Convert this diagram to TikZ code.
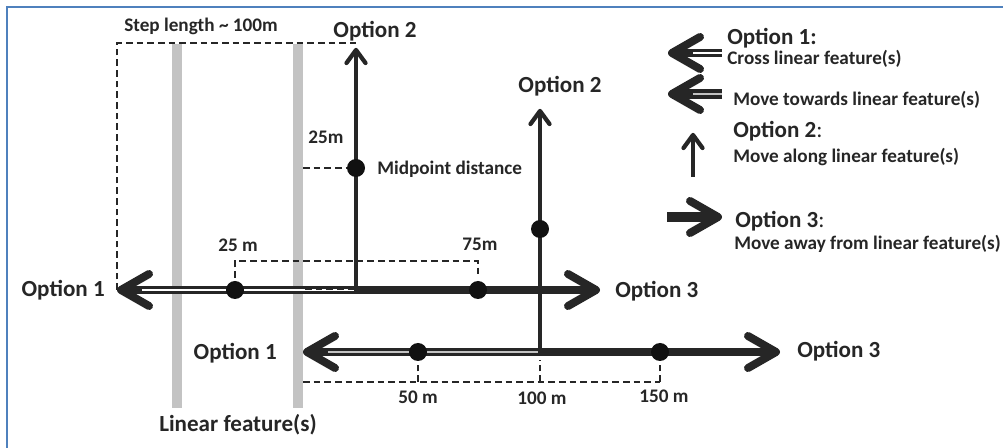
\documentclass[tikz,border=0pt]{standalone}
\usepackage{fontspec}
\setmainfont{Carlito}
\definecolor{ink}{HTML}{262626}
\definecolor{framec}{HTML}{4F81BD}
\definecolor{featurec}{HTML}{C3C3C3}
\definecolor{dotc}{HTML}{111111}

\begin{document}
\begin{tikzpicture}[x=0.75pt,y=-0.75pt,
  biglbl/.style={font=\bfseries\fontsize{17.3}{20}\selectfont, text=ink, inner sep=0pt},
  smllbl/.style={font=\bfseries\fontsize{14.4}{17}\selectfont, text=ink, inner sep=0pt},
  % open chevron heads, drawn pointing along the local x axis
  pics/bigbarb/.style={code={\draw[ink, line width=6pt, line cap=round, line join=round]
      (-28,16) -- (0,0) -- (-28,-16);}},
  pics/thinbarb/.style={code={\draw[ink, line width=3.2pt, line cap=round, line join=round]
      (-13,9.5) -- (0,0) -- (-13,-9.5);}},
  awaymove/.style={draw=ink, line width=6pt},
  crossmove/.style={draw=ink, line width=5.8pt},
  alongmove/.style={draw=ink, line width=3pt},
  crosscore/.style={draw=white, line width=1.7pt},
  towardcore/.style={draw=featurec, line width=1.7pt},
  dim/.style={draw=ink, line width=1.1pt, dash pattern=on 5pt off 3pt},
  feature/.style={draw=featurec, line width=6.8pt},
  dot/.style={circle, fill=dotc, inner sep=0pt, minimum size=13.5pt}
]
\useasboundingbox (0,0) rectangle (1003,448);

% frame edges
\draw[framec, line width=1.6pt] (7,448) -- (7,7) -- (1003,7);

% linear features
\draw[feature] (177,44) -- (177,408);
\draw[feature] (298,44) -- (298,408);

% key points of the two steps
\coordinate (s1) at (356,290);
\coordinate (s1w) at (121,290);
\coordinate (s1e) at (596,290);
\coordinate (s1n) at (356,50);
\coordinate (s2) at (540,352);
\coordinate (s2w) at (307,352);
\coordinate (s2e) at (776,352);
\coordinate (s2n) at (540,111);

% dimension lines
\draw[dim] (117,290) -- (117,43) -- (356,43);
\draw[dim] (303,168) -- (348,168);
\draw[dim] (235,278) -- (235,261) -- (478,261) -- (478,276);
\draw[dim] (303,382) -- (660,382);
\draw[dim] (418,382) -- (418,360);
\draw[dim] (540,382) -- (540,360);
\draw[dim] (660,382) -- (660,360);

% first step
\draw[crossmove] (s1) -- (s1w);
\draw[crosscore] (s1) -- ([xshift=16pt]s1w);
\pic[rotate=180] at (s1w) {bigbarb};
\draw[dim] (305,289) -- (372,289);
\draw[awaymove] ([xshift=-1.2pt]s1) -- (s1e);
\pic at (s1e) {bigbarb};
\draw[alongmove] (356,293) -- (s1n);
\pic[rotate=90] at (s1n) {thinbarb};

% second step
\draw[crossmove] (s2) -- (s2w);
\draw[towardcore] (s2) -- ([xshift=16pt]s2w);
\pic[rotate=180] at (s2w) {bigbarb};
\draw[awaymove] ([xshift=-1.2pt]s2) -- (s2e);
\pic at (s2e) {bigbarb};
\draw[alongmove] (540,355) -- (s2n);
\pic[rotate=90] at (s2n) {thinbarb};

% midpoints
\node[dot] (m1) at (356,168) {};
\node[dot] (m2) at (235,290) {};
\node[dot] (m3) at (478,290) {};
\node[dot] (m4) at (540,229) {};
\node[dot] (m5) at (418,352) {};
\node[dot] (m6) at (660,352) {};

% labels
\node[smllbl, anchor=base] (steplen) at (201,32) {Step length \char`~\ 100m};
\node[biglbl, anchor=base] (o2a) at (375,38) {Option 2};
\node[biglbl, anchor=base] (o2b) at (560,93) {Option 2};
\node[smllbl, anchor=base] (d25v) at (326,144) {25m};
\node[smllbl, anchor=base west] (midp) at (377,175) {Midpoint distance};
\node[smllbl, anchor=base] (d25) at (238,252) {25 m};
\node[smllbl, anchor=base] (d75) at (480,251) {75m};
\node[biglbl, anchor=base east] (o1a) at (105,297) {Option 1};
\node[biglbl, anchor=base west] (o3a) at (615,298) {Option 3};
\node[biglbl, anchor=base east] (o1b) at (277,360) {Option 1};
\node[biglbl, anchor=base west] (o3b) at (797,358) {Option 3};
\node[smllbl, anchor=base] (d50) at (418,404) {50 m};
\node[smllbl, anchor=base] (d100) at (542,405) {100 m};
\node[smllbl, anchor=base] (d150) at (664,403) {150 m};
\node[biglbl, anchor=base] (lf) at (238,432) {Linear feature(s)};

% legend
\coordinate (k1a) at (722,53);  \coordinate (k1b) at (672,53);
\coordinate (k2a) at (722,94);  \coordinate (k2b) at (672,94);
\coordinate (k3a) at (693,177); \coordinate (k3b) at (693,135);
\coordinate (k4a) at (667,217); \coordinate (k4b) at (718,217);
\draw[crossmove] (k1a) -- (k1b);
\draw[crosscore] (k1a) -- ([xshift=16pt]k1b);
\pic[rotate=180] at (k1b) {bigbarb};
\draw[crossmove, line width=7pt] (k2a) -- (k2b);
\draw[towardcore, line width=2pt] (k2a) -- ([xshift=16pt]k2b);
\pic[rotate=180] at (k2b) {bigbarb};
\draw[alongmove] (k3a) -- (k3b);
\pic[rotate=90] at (k3b) {thinbarb};
\draw[awaymove, line width=7.5pt] (k4a) -- (k4b);
\pic at (k4b) {bigbarb};

\node[biglbl, anchor=base west] (k1t) at (727,45) {Option 1:};
\node[smllbl, anchor=base west] (k1s) at (727,65) {Cross linear feature(s)};
\node[smllbl, anchor=base west] (k2s) at (733,106) {Move towards linear feature(s)};
\node[biglbl, anchor=base west] (k3t) at (733,138) {Option 2{\mdseries:}};
\node[smllbl, anchor=base west] (k3s) at (733,163) {Move along linear feature(s)};
\node[biglbl, anchor=base west] (k4t) at (735,228) {Option 3{\mdseries:}};
\node[smllbl, anchor=base west] (k4s) at (734,250) {Move away from linear feature(s)};
\end{tikzpicture}
\end{document}
